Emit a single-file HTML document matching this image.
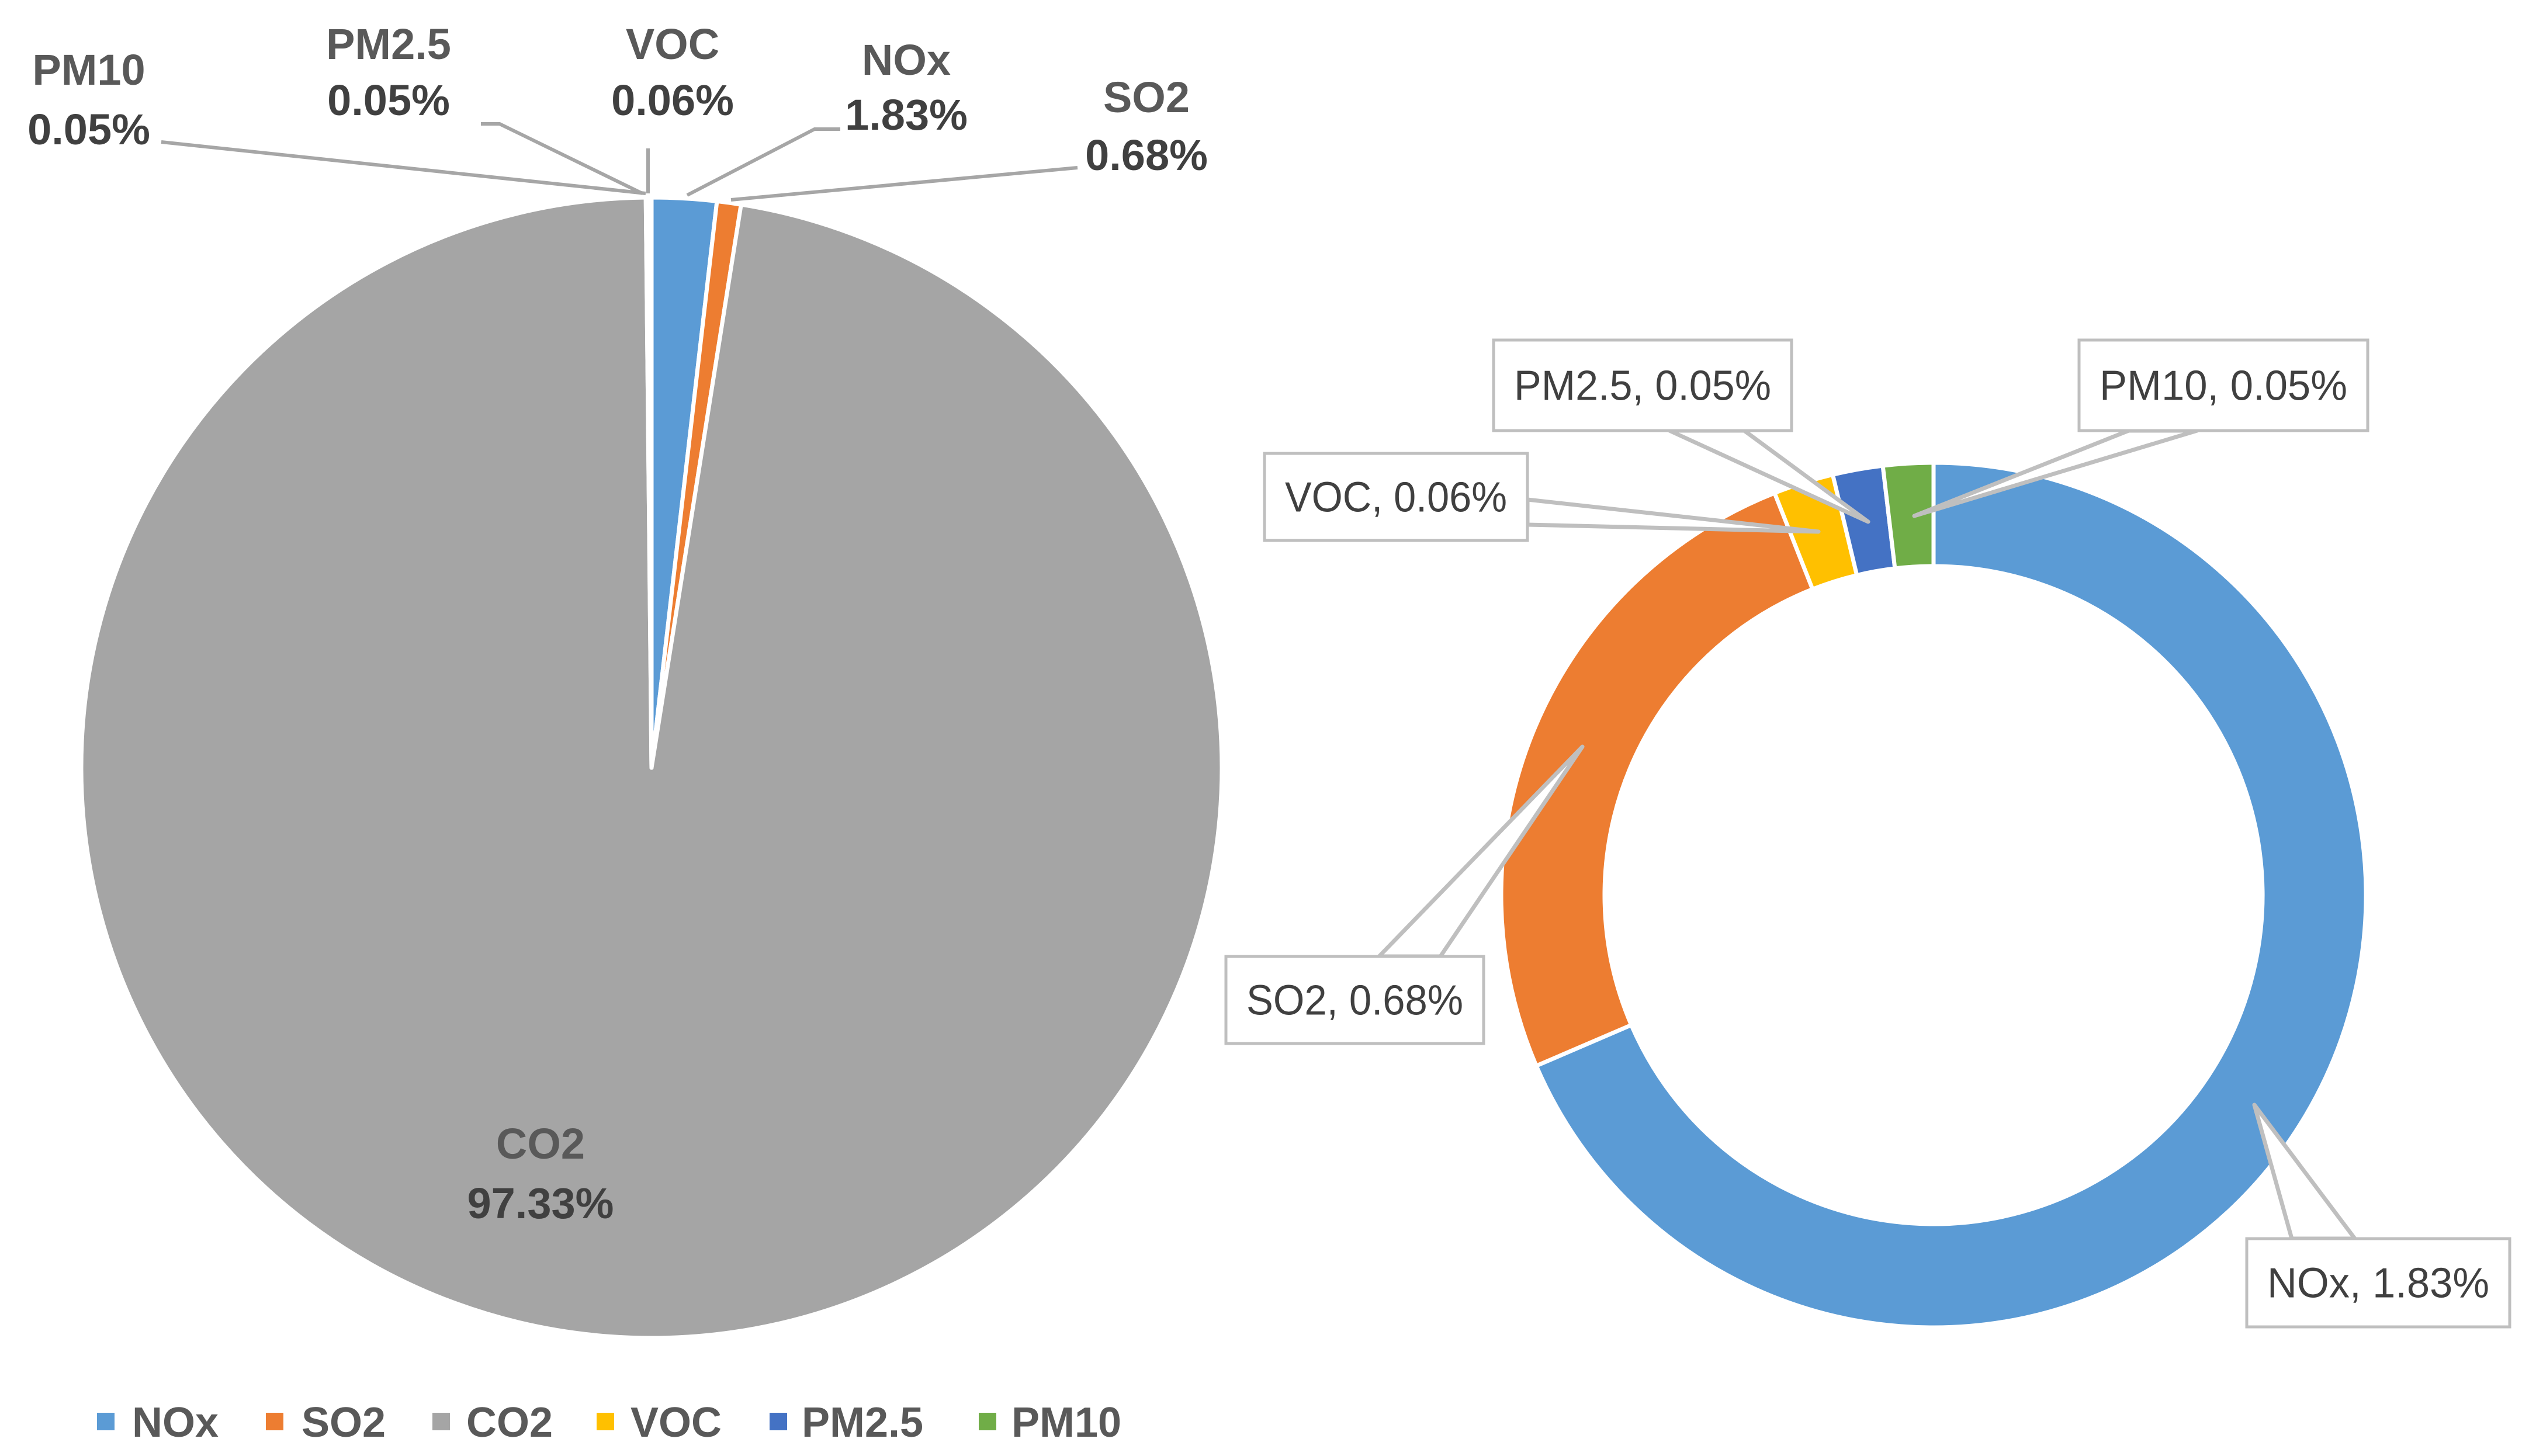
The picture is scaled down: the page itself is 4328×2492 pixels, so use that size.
<!DOCTYPE html>
<html><head><meta charset="utf-8"><style>
html,body{margin:0;padding:0;background:#fff;}
svg{display:block;font-family:"Liberation Sans",sans-serif;}
</style></head><body>
<svg id="chart" width="4328" height="2492" viewBox="0 0 4328 2492" xmlns="http://www.w3.org/2000/svg">
<g id="pie"></g>
<g id="pieLabels"></g>
<g id="donut"></g>
<g id="donutCallouts"></g>
<g id="donutLabels"></g>
<g id="legend"></g>
</svg>
<script>
const pieCategories = ["NOx","SO2","CO2","VOC","PM2.5","PM10"];
const pieValues = [1.83,0.68,97.33,0.06,0.05,0.05];
const pieLabelText = ["1.83%","0.68%","97.33%","0.06%","0.05%","0.05%"];
const donutCategories = ["NOx","SO2","VOC","PM2.5","PM10"];
const donutValues = [1.83,0.68,0.06,0.05,0.05];
const donutLabelText = ["NOx, 1.83%","SO2, 0.68%","VOC, 0.06%","PM2.5, 0.05%","PM10, 0.05%"];
const colors = {"NOx":"#5B9BD5","SO2":"#ED7D31","CO2":"#A5A5A5","VOC":"#FFC000","PM2.5":"#4472C4","PM10":"#70AD47"};

const NS="http://www.w3.org/2000/svg";
function mk(tag, attrs, parent){const e=document.createElementNS(NS,tag);for(const k in attrs)e.setAttribute(k,attrs[k]);parent.appendChild(e);return e;}
function pt(cx,cy,r,a){return [cx+r*Math.sin(a), cy-r*Math.cos(a)];}
function angleScale(vals){const t=vals.reduce((a,b)=>a+b,0);let c=0;return vals.map(v=>{const s=c/t*2*Math.PI;c+=v;return [s,c/t*2*Math.PI];});}
function arcPath(cx,cy,ro,ri,a0,a1){
  const big=(a1-a0)>Math.PI?1:0;
  const p0=pt(cx,cy,ro,a0),p1=pt(cx,cy,ro,a1);
  if(ri<=0) return `M${cx},${cy}L${p0}A${ro},${ro} 0 ${big} 1 ${p1}Z`;
  const q1=pt(cx,cy,ri,a1),q0=pt(cx,cy,ri,a0);
  return `M${p0}A${ro},${ro} 0 ${big} 1 ${p1}L${q1}A${ri},${ri} 0 ${big} 0 ${q0}Z`;
}

// left pie
const pie=document.getElementById('pie');
const pcx=1115,pcy=1314,pr=976;
angleScale(pieValues).forEach((a,i)=>{
  const p=mk('path',{d:arcPath(pcx,pcy,pr,0,a[0],a[1]),fill:colors[pieCategories[i]],stroke:'#fff','stroke-width':7,'stroke-linejoin':'round'},pie);
  
  
});

// pie labels (layout positions)
const pl=document.getElementById('pieLabels');
const pieLabelPos={"NOx":[1551,102,196],"SO2":[1962,166,265],"CO2":[925,1957,2059],"VOC":[1151,75,171],"PM2.5":[665,75,171],"PM10":[152,119,221]};
const pieLeaders={"PM10":"276,243 1105,331","PM2.5":"823,212 855,212 1099,331","VOC":"1109,254 1109,331","NOx":"1438,221 1394,221 1176,334","SO2":"1844,287 1251,342"};
for(const k in pieLeaders){
  const l=mk('polyline',{points:pieLeaders[k],fill:'none',stroke:'#A6A6A6','stroke-width':6},pl);
  
  
}
pieCategories.forEach((c,i)=>{
  const p=pieLabelPos[c];
  const t1=mk('text',{x:p[0],y:p[1]+26,'text-anchor':'middle','font-size':74,'font-weight':'bold',fill:'#595959'},pl);
  t1.textContent=c;
  
  
  const t2=mk('text',{x:p[0],y:p[2]+26,'text-anchor':'middle','font-size':74,'font-weight':'bold',fill:'#404040'},pl);
  t2.textContent=pieLabelText[i];
  
  
});

// donut
const dn=document.getElementById('donut');
const dcx=3309,dcy=1532,dro=740,dri=563;
angleScale(donutValues).forEach((a,i)=>{
  const p=mk('path',{d:arcPath(dcx,dcy,dro,dri,a[0],a[1]),fill:colors[donutCategories[i]],stroke:'#fff','stroke-width':7,'stroke-linejoin':'round'},dn);
  
  
});

// donut callouts
const dc=document.getElementById('donutCallouts');
const dl=document.getElementById('donutLabels');
const boxes={"NOx":[3845,2120,4295,2271],"SO2":[2098,1637,2539,1786],"VOC":[2164,776,2614,925],"PM2.5":[2556,582,3066,737],"PM10":[3558,582,4052,737]};
const wedges={"NOx":"3922,2120 3858,1891 4030,2120","SO2":"2360,1637 2708,1278 2465,1637","VOC":"2614,855 3112,910 2614,898","PM2.5":"2857,737 3197,893 2985,737","PM10":"3643,737 3276,883 3760,737"};
donutCategories.forEach((c,i)=>{
  const w=mk('polygon',{points:wedges[c],fill:'#fff',stroke:'#BFBFBF','stroke-width':7,'stroke-linejoin':'round'},dc);
  
  
  const b=boxes[c];
  const r=mk('rect',{x:b[0],y:b[1],width:b[2]-b[0],height:b[3]-b[1],fill:'#fff',stroke:'#BFBFBF','stroke-width':5},dl);
  
  
  const t=mk('text',{x:(b[0]+b[2])/2,y:(b[1]+b[3])/2+25,'text-anchor':'middle','font-size':72,fill:'#404040',textLength:(b[2]-b[0])-70,lengthAdjust:'spacingAndGlyphs'},dl);
  t.textContent=donutLabelText[i];
  
  
});

// legend
const lg=document.getElementById('legend');
const legSq=[166,455,740,1021,1317,1675];
const legTx=[226,516,798,1079,1372,1731];
pieCategories.forEach((c,i)=>{
  const s=mk('rect',{x:legSq[i],y:2418,width:30,height:30,fill:colors[c]},lg);
  
  
  const t=mk('text',{x:legTx[i],y:2459,'font-size':72,'font-weight':'bold',fill:'#595959'},lg);
  t.textContent=c;
  
  
});
</script>
</body></html>
